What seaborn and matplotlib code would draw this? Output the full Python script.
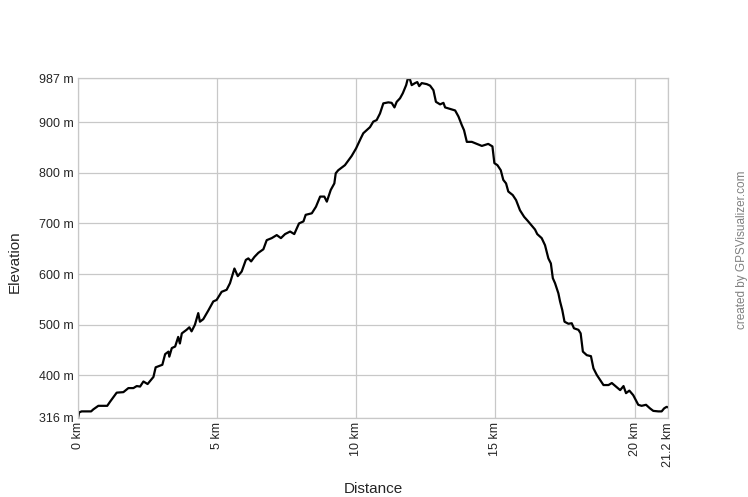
import matplotlib
import matplotlib.pyplot as plt
import numpy as np
import pandas as pd
import seaborn as sns

matplotlib.use("Agg")

# elevation profile
distance_km = [
    0.00, 0.04, 0.13, 0.47, 0.55, 0.73, 1.05, 1.15, 1.39, 1.63, 1.81, 1.99,
    2.11, 2.23, 2.35, 2.50, 2.71, 2.79, 3.03, 3.13, 3.25, 3.28, 3.37, 3.49,
    3.60, 3.66, 3.73, 3.90, 4.00, 4.08, 4.20, 4.32, 4.38, 4.50, 4.68, 4.86,
    4.98, 5.16, 5.34, 5.46, 5.62, 5.74, 5.88, 6.03, 6.12, 6.22, 6.34, 6.48,
    6.66, 6.78, 6.96, 7.14, 7.29, 7.44, 7.62, 7.77, 7.94, 8.10, 8.18, 8.40,
    8.55, 8.70, 8.85, 8.94, 9.08, 9.21, 9.26, 9.35, 9.59, 9.71, 9.83, 9.99,
    10.16, 10.25, 10.49, 10.61, 10.73, 10.85, 10.97, 11.15, 11.27, 11.37,
    11.45, 11.57, 11.67, 11.79, 11.85, 11.93, 11.99, 12.11, 12.19, 12.26,
    12.35, 12.53, 12.65, 12.77, 12.86, 13.01, 13.13, 13.19, 13.43, 13.55,
    13.67, 13.79, 13.87, 13.97, 14.15, 14.33, 14.51, 14.62, 14.74, 14.89,
    14.96, 15.07, 15.19, 15.28, 15.38, 15.46, 15.62, 15.74, 15.88, 16.03,
    16.16, 16.28, 16.42, 16.50, 16.66, 16.78, 16.90, 16.99, 17.06, 17.14,
    17.26, 17.32, 17.40, 17.48, 17.62, 17.74, 17.82, 17.98, 18.06, 18.14,
    18.28, 18.43, 18.52, 18.64, 18.76, 18.88, 19.06, 19.18, 19.35, 19.48,
    19.60, 19.69, 19.81, 19.95, 20.13, 20.25, 20.41, 20.55, 20.67, 20.85,
    20.97, 21.06, 21.15, 21.20,
]
elevation_m = [
    316, 327, 329, 329, 333, 340, 340, 348, 366, 367, 375, 375,
    379, 378, 388, 383, 397, 416, 421, 442, 447, 437, 454, 457,
    476, 463, 483, 490, 495, 487, 500, 523, 506, 511, 528, 546,
    549, 565, 569, 582, 611, 596, 605, 628, 631, 625, 634, 642,
    649, 667, 671, 677, 671, 679, 684, 679, 700, 704, 717, 720,
    733, 753, 753, 743, 766, 779, 799, 805, 815, 824, 833, 848,
    868, 878, 890, 901, 904, 917, 937, 939, 938, 929,
    940, 947, 957, 973, 986, 984, 973, 977, 979, 971,
    977, 975, 972, 963, 940, 935, 938, 929, 925, 923,
    911, 894, 884, 861, 861, 857, 853, 855, 857, 852,
    819, 815, 805, 786, 779, 763, 756, 746, 726, 713,
    705, 697, 688, 679, 671, 657, 631, 621, 592, 582,
    562, 546, 529, 506, 502, 503, 493, 490, 483, 447,
    440, 438, 414, 401, 391, 381, 381, 385, 377, 371,
    379, 365, 370, 361, 342, 340, 342, 335, 330, 329,
    329, 335, 338, 337,
]

x_ticks = [0, 5, 10, 15, 20, 21.2]
x_labels = ["0 km", "5 km", "10 km", "15 km", "20 km", "21.2 km"]
y_ticks = [316, 400, 500, 600, 700, 800, 900, 987]
y_labels = ["316 m", "400 m", "500 m", "600 m", "700 m", "800 m", "900 m", "987 m"]

df = pd.DataFrame({"distance": distance_km, "elevation": elevation_m})

sns.set_style("white")
plt.rcParams["font.family"] = ["Liberation Sans", "DejaVu Sans"]

fig = plt.figure(figsize=(7.48, 4.97), dpi=100)
ax = fig.add_axes([0.1043, 0.159, 0.7888, 0.684])

sns.lineplot(data=df, x="distance", y="elevation", sort=False,
             color="black", linewidth=1.6, ax=ax)

ax.set_xlim(0, 21.2)
ax.set_ylim(316, 987)
ax.set_xticks(x_ticks)
ax.set_xticklabels(x_labels, rotation=90, fontsize=9)
ax.set_yticks(y_ticks)
ax.set_yticklabels(y_labels, fontsize=9)
ax.grid(True, color="#c8c8c8", linewidth=0.9)
ax.tick_params(length=0, pad=3)
for s in ax.spines.values():
    s.set_color("#c8c8c8")
    s.set_linewidth(0.9)

ax.set_xlabel("")
ax.set_ylabel("")
fig.text(373 / 748, 1 - 489 / 497, "Distance", fontsize=11,
         ha="center", va="center")
fig.text(15 / 748, 1 - 262 / 497, "Elevation", fontsize=11, rotation=90,
         ha="center", va="center")
fig.text(742 / 748, 1 - 250 / 497, "created by GPSVisualizer.com", rotation=90,
         color="#808080", fontsize=8.5, ha="center", va="center")

fig.savefig("out.png", dpi=100)
plt.close(fig)
